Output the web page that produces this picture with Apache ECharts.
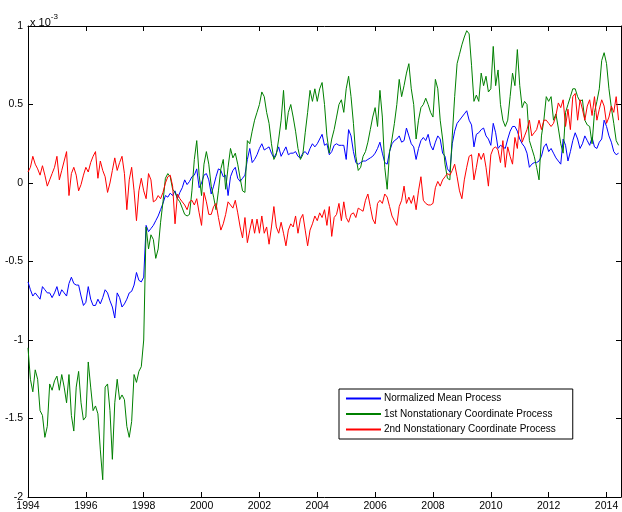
<!DOCTYPE html>
<html><head><meta charset="utf-8">
<script src="https://cdn.jsdelivr.net/npm/echarts@6/dist/echarts.min.js"></script>
<style>html,body{margin:0;padding:0;background:#fff}#c{width:622px;height:512px}</style>
</head><body><div id="c"></div>
<script>
// Time base: monthly samples starting Jan 1994 (values in units of 1e-3)
const startYear = 1994;
const seriesNames = ['Normalized Mean Process','1st Nonstationary Coordinate Process','2nd Nonstationary Coordinate Process'];
const xTicks = [1994,1996,1998,2000,2002,2004,2006,2008,2010,2012,2014];
const yTicks = [-2,-1.5,-1,-0.5,0,0.5,1];

const meanProcess = [
-0.63,-0.68,-0.72,-0.70,-0.72,-0.74,-0.66,-0.68,-0.70,-0.70,
-0.73,-0.70,-0.66,-0.72,-0.68,-0.70,-0.72,-0.64,-0.60,-0.64,
-0.65,-0.65,-0.72,-0.78,-0.76,-0.66,-0.74,-0.78,-0.78,-0.74,
-0.77,-0.73,-0.68,-0.70,-0.75,-0.79,-0.86,-0.70,-0.73,-0.79,
-0.77,-0.74,-0.70,-0.69,-0.65,-0.57,-0.62,-0.63,-0.60,
-0.27,-0.31,-0.29,-0.27,-0.24,-0.21,-0.17,-0.13,-0.08,-0.09,
-0.065,-0.08,-0.05,-0.10,-0.06,-0.03,0.02,-0.01,0.01,0.04,
0.05,0.09,-0.03,0.00,0.05,0.06,0.02,-0.07,-0.02,0.04,
0.09,0.08,0.04,0.05,-0.08,0.04,0.08,0.10,0.03,0.01,
0.03,0.05,0.15,0.22,0.13,0.15,0.18,0.22,0.25,0.21,
0.22,0.23,0.19,0.16,0.19,0.23,0.17,0.20,0.23,0.18,
0.19,0.19,0.20,0.17,0.16,0.19,0.20,0.18,0.22,0.25,
0.23,
0.25,0.28,0.31,0.24,0.25,0.18,0.20,0.24,0.25,0.24,
0.24,0.24,0.15,0.34,0.30,0.20,0.13,0.12,0.13,0.14,
0.14,0.15,0.16,0.17,0.19,0.22,0.26,0.19,0.13,0.12,
0.20,0.25,0.27,0.28,0.30,0.26,0.27,0.35,0.30,0.25,
0.23,0.15,0.22,0.27,0.29,0.27,0.31,0.24,0.21,0.26,
0.30,0.28,0.19,0.17,0.09,0.07,0.25,0.33,0.38,0.40,
0.42,0.44,0.46,0.40,0.37,0.23,0.31,0.32,0.34,0.35,
0.30,0.28,0.24,0.38,0.32,0.22,0.24,0.23,0.22,0.28,
0.33,0.36,0.36,0.33,0.28,0.25,0.23,0.19,0.10,0.12,
0.13,0.13,0.14,0.17,0.23,0.25,0.20,0.22,0.19,0.16,
0.14,0.12,0.28,0.24,0.14,0.20,0.27,0.32,0.28,0.22,
0.25,0.30,0.27,0.24,0.29,0.23,0.22,0.26,0.28,0.40,
0.36,0.30,0.26,0.20,0.18,0.19
];

const firstCoord = [
-1.05,-1.25,-1.33,-1.19,-1.25,-1.45,-1.48,-1.62,-1.55,-1.28,
-1.32,-1.26,-1.23,-1.32,-1.22,-1.30,-1.40,-1.22,-1.48,-1.58,
-1.30,-1.20,-1.40,-1.51,-1.49,-1.14,-1.30,-1.45,-1.42,-1.47,
-1.70,-1.89,-1.30,-1.28,-1.45,-1.76,-1.40,-1.25,-1.38,-1.35,
-1.38,-1.55,-1.62,-1.52,-1.22,-1.27,-1.20,-1.17,-1.00,-0.28,
-0.42,-0.33,-0.36,-0.48,-0.42,-0.25,-0.12,0.03,0.06,0.04,
-0.04,-0.06,-0.10,-0.12,-0.16,-0.20,-0.21,-0.20,-0.05,0.15,
0.27,0.05,-0.08,0.12,0.20,0.12,-0.02,-0.09,-0.17,-0.05,
0.09,0.15,-0.04,0.10,0.22,0.16,0.19,0.12,0.03,-0.05,
-0.06,0.27,0.25,0.33,0.40,0.45,0.50,0.58,0.55,0.45,
0.38,0.25,0.15,0.18,0.28,0.40,0.59,0.34,0.45,0.50,
0.42,0.33,0.22,0.15,0.18,0.32,0.45,0.59,0.52,0.60,
0.52,0.60,0.64,0.50,0.30,0.19,0.28,0.34,0.42,0.50,
0.53,0.45,0.60,0.68,0.55,0.38,0.17,0.08,0.10,0.17,
0.20,0.26,0.34,0.42,0.48,0.36,0.59,0.42,0.10,-0.04,
0.20,0.28,0.38,0.50,0.66,0.55,0.62,0.70,0.76,0.60,
0.50,0.28,0.40,0.48,0.50,0.54,0.50,0.45,0.42,0.66,
0.60,0.40,0.28,0.12,0.03,0.02,0.30,0.55,0.76,0.82,
0.88,0.93,0.97,0.95,0.75,0.52,0.56,0.52,0.70,0.62,
0.68,0.58,0.60,0.87,0.62,0.72,0.50,0.40,0.36,0.40,
0.55,0.70,0.62,0.85,0.62,0.48,0.52,0.50,0.27,0.22,
0.17,0.10,0.02,0.30,0.40,0.55,0.52,0.55,0.40,0.44,
0.35,0.25,0.19,0.45,0.50,0.55,0.60,0.60,0.55,0.52,
0.53,0.40,0.37,0.36,0.25,0.45,0.52,0.60,0.78,0.83,
0.76,0.60,0.48,0.38,0.27,0.24
];

const secondCoord = [
0.07,0.10,0.17,0.12,0.09,0.05,0.11,0.05,-0.02,0.02,
0.06,0.10,0.17,0.02,0.08,0.14,0.20,-0.08,0.06,0.10,
0.05,-0.05,-0.01,0.05,0.10,0.07,0.13,0.17,0.20,0.03,
0.14,0.08,0.04,-0.06,0.00,0.08,0.16,0.08,0.13,0.17,
0.06,-0.17,0.02,0.10,-0.05,-0.24,-0.05,0.03,-0.05,-0.10,
0.06,0.02,-0.12,-0.11,-0.08,-0.10,-0.06,0.00,0.04,0.05,
-0.02,-0.26,-0.07,-0.10,-0.12,-0.14,-0.17,-0.12,-0.11,-0.14,
-0.10,-0.19,-0.27,-0.06,-0.12,-0.20,-0.20,-0.15,-0.13,-0.22,
-0.30,-0.26,-0.20,-0.12,-0.14,-0.16,-0.11,-0.19,-0.28,-0.35,
-0.22,-0.38,-0.30,-0.23,-0.32,-0.23,-0.32,-0.21,-0.32,-0.28,
-0.39,-0.28,-0.15,-0.28,-0.32,-0.25,-0.32,-0.40,-0.30,-0.26,
-0.28,-0.21,-0.32,-0.23,-0.20,-0.30,-0.40,-0.30,-0.26,-0.21,
-0.24,-0.19,-0.22,-0.17,-0.27,-0.15,-0.34,-0.22,-0.20,-0.13,
-0.24,-0.12,-0.22,-0.25,-0.20,-0.19,-0.22,-0.16,-0.17,-0.18,
-0.11,-0.07,-0.15,-0.23,-0.26,-0.13,-0.11,-0.13,-0.07,-0.09,
-0.15,-0.21,-0.24,-0.27,-0.15,-0.11,-0.02,-0.13,-0.09,-0.13,
-0.08,-0.17,-0.05,0.04,-0.11,-0.13,-0.14,-0.14,-0.13,-0.03,
0.01,-0.02,0.02,0.04,0.06,0.05,0.08,0.12,0.04,-0.05,
-0.10,0.02,0.10,0.17,0.18,0.02,0.10,0.19,0.15,0.19,
0.10,-0.02,0.18,0.22,0.23,0.21,0.13,0.27,0.10,0.23,
0.17,0.12,0.29,0.22,0.41,0.26,0.30,0.34,0.40,0.30,
0.32,0.34,0.40,0.34,0.40,0.40,0.38,0.36,0.38,0.43,
0.51,0.48,0.53,0.36,0.47,0.34,0.55,0.57,0.40,0.53,
0.47,0.40,0.49,0.53,0.43,0.55,0.40,0.47,0.53,0.49,
0.38,0.42,0.49,0.45,0.55,0.40
];

const colors = ['#0000ff', '#008000', '#ff0000'];
const FONT = "'Liberation Sans', Arial, sans-serif";

function toPairs(arr){ return arr.map((v,i)=>[startYear + i/12, v]); }

const chart = echarts.init(document.getElementById('c'), null, {renderer:'canvas'});
const axisLine = {show:true, onZero:false, lineStyle:{color:'#000', width:1}};
const tick = {show:true, inside:true, length:5, lineStyle:{color:'#000', width:1}};
chart.setOption({
  animation:false,
  backgroundColor:'#fff',
  title:{
    text:'{a|x 10}{b|-3}', left:25, top:8,
    textStyle:{rich:{
      a:{fontFamily:FONT, fontSize:11, fontWeight:'normal', color:'#000', verticalAlign:'bottom', padding:[4,0,0,0]},
      b:{fontFamily:FONT, fontSize:8, fontWeight:'normal', color:'#000', verticalAlign:'top'}
    }}
  },
  grid:{left:28, top:26, right:1, bottom:15, containLabel:false},
  legend:{
    orient:'vertical', left:339, top:389,
    data:seriesNames,
    icon:'rect', itemWidth:35, itemHeight:2, itemGap:2.5,
    padding:[3,17,3,7],
    borderColor:'#000', borderWidth:1, backgroundColor:'#fff',
    textStyle:{fontFamily:FONT, fontSize:10, color:'#000', lineHeight:13, padding:[0,0,0,-2]}
  },
  xAxis:[{
    type:'value', min:1994, max:2014.5, interval:2, position:'bottom',
    axisLine, axisTick:tick, splitLine:{show:false},
    axisLabel:{fontFamily:FONT, fontSize:10.5, color:'#000', margin:4, showMaxLabel:false,
      formatter:v=> xTicks.includes(v) ? String(v) : ''}
  },{
    type:'value', min:1994, max:2014.5, interval:2, position:'top',
    axisLine, axisTick:tick, splitLine:{show:false}, axisLabel:{show:false}
  }],
  yAxis:[{
    type:'value', min:-2, max:1, interval:0.5, position:'left',
    axisLine, axisTick:tick, splitLine:{show:false},
    axisLabel:{fontFamily:FONT, fontSize:10.5, color:'#000', margin:5,
      formatter:v=> yTicks.includes(v) ? String(v) : ''}
  },{
    type:'value', min:-2, max:1, interval:0.5, position:'right',
    axisLine, axisTick:tick, splitLine:{show:false}, axisLabel:{show:false}
  }],
  series:[meanProcess, firstCoord, secondCoord].map((arr,k)=>({
    name:seriesNames[k], type:'line', data:toPairs(arr),
    showSymbol:false, symbol:'none', smooth:false,
    color:colors[k],
    lineStyle:{color:colors[k], width:1},
    emphasis:{disabled:true}
  }))
});
</script>
</body></html>
